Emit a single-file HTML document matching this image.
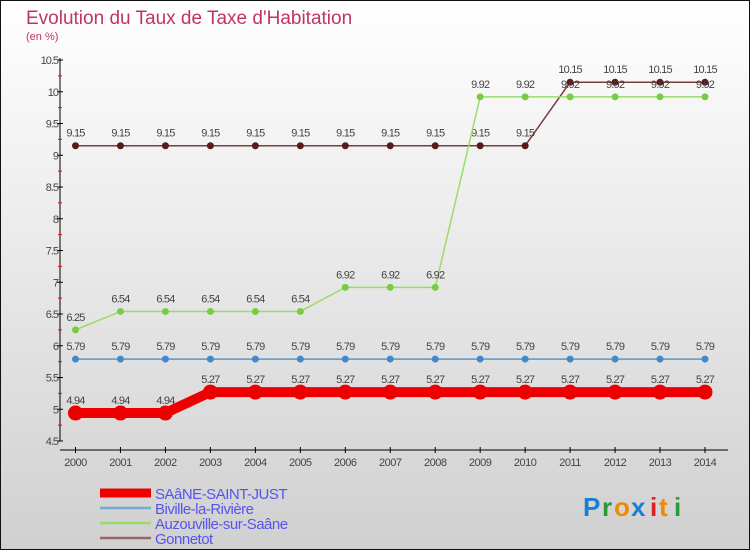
<!DOCTYPE html>
<html><head><meta charset="utf-8"><style>
body{margin:0;width:750px;height:550px;overflow:hidden;font-family:"Liberation Sans",sans-serif}
svg{display:block}
</style></head><body>
<svg id="chart" width="750" height="550" xmlns="http://www.w3.org/2000/svg">
<defs><linearGradient id="bg" x1="0" y1="0" x2="0" y2="1"><stop offset="0" stop-color="#ffffff"/><stop offset="1" stop-color="#d0d0d0"/></linearGradient></defs>
<rect x="0.5" y="0.5" width="749" height="549" fill="url(#bg)" stroke="#111"/>
<text x="26" y="24" font-size="19" fill="#c0336a">Evolution du Taux de Taxe d'Habitation</text>
<text x="26" y="40" font-size="11" fill="#c0336a">(en %)</text>
<g id="axes"></g>
<g id="series"></g>
<g id="legend"></g>
<g font-size="26" font-weight="bold">
<text x="583" y="516" fill="#1a7fd4">P</text><text x="602" y="516" fill="#2a9a3a">r</text><text x="614" y="516" fill="#f08a00">o</text><text x="631" y="516" fill="#1a7fd4">x</text><text x="650" y="516" fill="#e02020">i</text><text x="659" y="516" fill="#f08a00">t</text><text x="674" y="516" fill="#2a9a3a">i</text>
</g>
</svg>
<script>
const years=[2000,2001,2002,2003,2004,2005,2006,2007,2008,2009,2010,2011,2012,2013,2014];
const yTicks=[4.5,5,5.5,6,6.5,7,7.5,8,8.5,9,9.5,10,10.5];
const saane=[4.94,4.94,4.94,5.27,5.27,5.27,5.27,5.27,5.27,5.27,5.27,5.27,5.27,5.27,5.27];
const biville=[5.79,5.79,5.79,5.79,5.79,5.79,5.79,5.79,5.79,5.79,5.79,5.79,5.79,5.79,5.79];
const auzouville=[6.25,6.54,6.54,6.54,6.54,6.54,6.92,6.92,6.92,9.92,9.92,9.92,9.92,9.92,9.92];
const gonnetot=[9.15,9.15,9.15,9.15,9.15,9.15,9.15,9.15,9.15,9.15,9.15,10.15,10.15,10.15,10.15];
const seriesNames=["SAâNE-SAINT-JUST","Biville-la-Rivière","Auzouville-sur-Saâne","Gonnetot"];
const NS="http://www.w3.org/2000/svg";
const X=y=>75.5+(y-2000)*(705-75.5)/14;
const Y=v=>441-(v-4.5)*(441-60)/6;
function mk(t,a,p){const e=document.createElementNS(NS,t);for(const k in a)e.setAttribute(k,a[k]);p.appendChild(e);return e;}
const axes=document.getElementById('axes');
const ya=mk('line',{x1:60,y1:58,x2:60,y2:441,stroke:'#000'},axes);


yTicks.forEach((t,i)=>{
  mk('line',{x1:57,x2:63,y1:Y(t),y2:Y(t),stroke:'#000'},axes);
  if(i<yTicks.length-1){mk('line',{x1:58,x2:62,y1:Y(t+0.25),y2:Y(t+0.25),stroke:'#f00'},axes);}
  const l=mk('text',{x:58,y:Y(t)+4,'font-size':11,'text-anchor':'end',fill:'#444','letter-spacing':'-1'},axes);
  l.textContent=String(t);
  
  
});
const xa=mk('line',{x1:60,y1:450,x2:728,y2:450,stroke:'#000'},axes);


years.forEach(y=>{
  mk('line',{x1:X(y),x2:X(y),y1:447,y2:453,stroke:'#000'},axes);
  const l=mk('text',{x:X(y),y:466,'font-size':11,'text-anchor':'middle',fill:'#444','letter-spacing':'-0.5'},axes);
  l.textContent=String(y);
  
  
});
const sg=document.getElementById('series');
function drawSeries(vals,color,w,r,dot,name,fmt){
  const g=mk('g',{},sg);
  
  
  mk('polyline',{points:vals.map((v,i)=>X(years[i])+','+Y(v)).join(' '),fill:'none',stroke:color,'stroke-width':w},g);
  vals.forEach((v,i)=>{
    const c=mk('circle',{cx:X(years[i]),cy:Y(v),r:r,fill:dot},g);
    
    
    const t=mk('text',{x:X(years[i]),y:Y(v)-9,'font-size':11,'text-anchor':'middle',fill:'#444','letter-spacing':'-0.8'},g);
    t.textContent=fmt(v);
    
    
  });
}
const f2=v=>v.toFixed(2);
drawSeries(gonnetot,'#7a3a3a',1.5,3.5,'#5a1a1a','series-gonnetot',f2);
drawSeries(auzouville,'#99dd66',1.5,3.5,'#77cc44','series-auzouville-sur-saane',f2);
drawSeries(biville,'#5599cc',1.5,3.5,'#4488cc','series-biville-la-riviere',f2);
drawSeries(saane,'#ee0000',10,7.5,'#ee0000','series-saane-saint-just',f2);
const lg=document.getElementById('legend');
const lc=['#ee0000','#77aacc','#99dd66','#996666'],lw=[9,2.5,2.5,2.5];
seriesNames.forEach((n,i)=>{
  const y=493+i*15;
  const g=mk('g',{},lg);
  
  
  mk('line',{x1:100,x2:151,y1:y,y2:y,stroke:lc[i],'stroke-width':lw[i]},g);
  const t=mk('text',{x:155,y:y+6,'font-size':15,fill:'#5555ee','letter-spacing':'-0.5'},g);
  t.textContent=n;
});
</script>
</body></html>
